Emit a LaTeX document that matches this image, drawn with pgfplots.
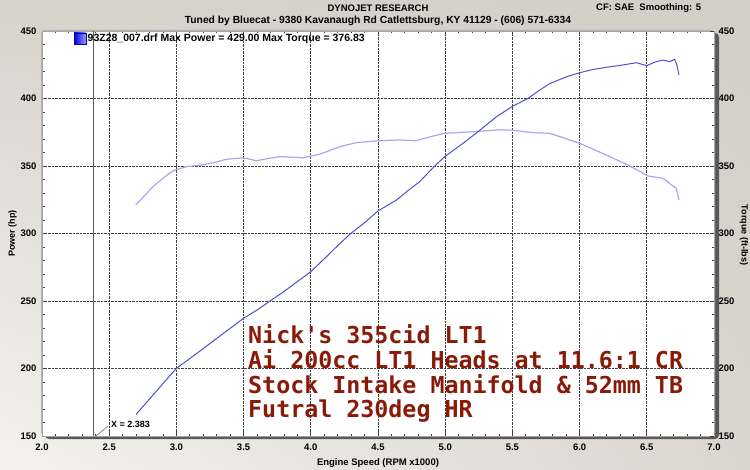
\documentclass[border=0pt]{standalone}
\usepackage{pgfplots}
\pgfplotsset{compat=1.18}
\usetikzlibrary{shadings}
\usepackage{fontspec}
\setmainfont{Liberation Sans}
\newfontfamily\bigmono{DejaVu Sans Mono}
\definecolor{bgTL}{HTML}{D6D3CB}
\definecolor{bgTR}{HTML}{D2CFC7}
\definecolor{bgBL}{HTML}{F3F2EE}
\definecolor{bgBR}{HTML}{D9D6CE}
\definecolor{pwr}{HTML}{5050D2}
\definecolor{trq}{HTML}{A8A8EC}
\definecolor{annot}{HTML}{8A1A08}
\begin{document}
\begin{tikzpicture}[x=1pt,y=1pt]
\path[use as bounding box] (0,0) rectangle (750,469);
\shade[upper left=bgTL, upper right=bgTR, lower left=bgBL, lower right=bgBR] (0,0) rectangle (750,469);
\fill[black!65, rounded corners=4pt] (45,30) rectangle (719,436);
\fill[black!30, rounded corners=4pt] (41,32.5) rectangle (715,439);
\begin{axis}[at={(42pt,33pt)}, anchor=south west, scale only axis,
  width=672pt, height=405pt,
  xmin=2, xmax=7, ymin=150, ymax=450,
  xtick={2,2.5,...,7}, ytick={150,200,...,450},
  minor x tick num=4, minor y tick num=4,
  axis background/.style={fill=white},
  grid=major,
  major grid style={densely dotted, black!75, line width=0.9pt},
  tick align=inside,
  major tick length=4pt, minor tick length=2.5pt,
  tick style={black!75, line width=0.8pt},
  axis line style={black!35, line width=0.8pt},
  ytick pos=left,
  /pgf/number format/assume math mode=true,
  x tick label style={font=\bfseries\fontsize{9.5}{10}\selectfont, yshift=-4pt, /pgf/number format/.cd, fixed, fixed zerofill, precision=1},
  y tick label style={font=\bfseries\fontsize{9.5}{10}\selectfont, xshift=-2pt},
  xlabel={\bfseries\fontsize{9.5}{10}\selectfont Engine Speed (RPM x1000)},
  ylabel={\bfseries\fontsize{9}{10}\selectfont Power (hp)},
  xlabel style={yshift=-1pt},
  ylabel style={yshift=-3pt},
  clip=false,
]
\addplot[black!65, line width=1pt] coordinates {(2.383,150)(2.383,450)};
\addplot[trq, line width=1.2pt] coordinates {
(2.697,321.1)(2.826,334.7)(2.9,341)(2.975,346.5)(3.074,349.5)(3.186,350.7)(3.28,352.5)(3.372,355)(3.496,356.1)(3.595,353.9)(3.68,355.5)(3.769,356.9)(3.942,356.1)(4.066,358.7)(4.215,364.3)(4.339,367.3)(4.5,368.7)(4.661,369.3)(4.786,368.7)(4.91,372.2)(4.996,374.2)(5.207,375.4)(5.406,376.8)(5.504,376.5)(5.653,374.7)(5.777,374.2)(6.0,366.8)(6.2,358.1)(6.373,350)(6.509,342.6)(6.621,340.9)(6.683,336)(6.72,333.5)(6.739,324.8)};
\addplot[pwr, line width=1pt] coordinates {
(2.70,166.1)(2.80,177.4)(2.90,188.8)(3.0,200.1)(3.086,206.3)(3.2,214.8)(3.35,226)(3.5,237.2)(3.6,243.3)(3.707,250.7)(3.8,257)(3.917,265.6)(4.0,271.7)(4.116,282.8)(4.2,291)(4.29,299.4)(4.4,308)(4.5,316.7)(4.637,324.8)(4.72,331.5)(4.81,338.4)(4.922,350)(4.996,356.9)(5.132,366.8)(5.244,375.4)(5.381,386.5)(5.504,394.4)(5.616,400.1)(5.70,406)(5.777,411)(5.9,416)(6.0,419.1)(6.1,421.5)(6.2,423.1)(6.3,424.5)(6.423,426.5)(6.5,424.3)(6.56,427)(6.621,428.5)(6.67,427.3)(6.707,429.0)(6.724,424.8)(6.739,417.4)};
\end{axis}
\begin{axis}[at={(42pt,33pt)}, anchor=south west, scale only axis,
  width=672pt, height=405pt,
  xmin=2, xmax=7, ymin=150, ymax=450,
  axis x line=none, axis y line*=right,
  ytick={150,200,...,450}, minor y tick num=4,
  tick align=inside, major tick length=4pt, minor tick length=2.5pt,
  tick style={black!75, line width=0.8pt},
  axis line style={draw=none},
  /pgf/number format/assume math mode=true,
  y tick label style={font=\bfseries\fontsize{9.5}{10}\selectfont, xshift=1pt},
]
\addplot[draw=none] coordinates {(2,150)(7,450)};
\end{axis}
% texts
\node[font=\bfseries\fontsize{9.5}{10}\selectfont] at (378,461) {DYNOJET RESEARCH};
\node[font=\bfseries\fontsize{10.3}{11}\selectfont] at (378,448) {Tuned by Bluecat - 9380 Kavanaugh Rd Catlettsburg, KY 41129 - (606) 571-6334};
\node[font=\bfseries\fontsize{9.5}{10}\selectfont, anchor=west, inner sep=0pt] at (596,461) {CF: SAE\ \ Smoothing: 5};
\node[font=\bfseries\fontsize{9}{10}\selectfont, rotate=-90] at (744,234) {Torque (ft-lbs)};
\shade[left color=blue!85!black, right color=blue!40!white, draw=blue!70!black] (74,425) rectangle (86,436);
\node[font=\bfseries\fontsize{10.5}{11}\selectfont, anchor=west, inner sep=0pt] at (87.5,430) {93Z28\_007.drf Max Power = 429.00 Max Torque = 376.83};
\draw[black!60, line width=0.6pt] (96,33) -- (108,43);
\node[font=\bfseries\fontsize{9}{10}\selectfont, anchor=west, inner sep=0pt] at (111,45) {X = 2.383};
\begin{scope}[every node/.style={font=\bigmono\bfseries\fontsize{23.3}{24}\selectfont, text=annot, anchor=base west, inner sep=0pt}]
\node at (248,125) {Nick's 355cid LT1};
\node at (248,100.5) {Ai 200cc LT1 Heads at 11.6:1 CR};
\node at (248,76) {Stock Intake Manifold \& 52mm TB};
\node at (248,51.5) {Futral 230deg HR};
\end{scope}
\end{tikzpicture}
\end{document}
